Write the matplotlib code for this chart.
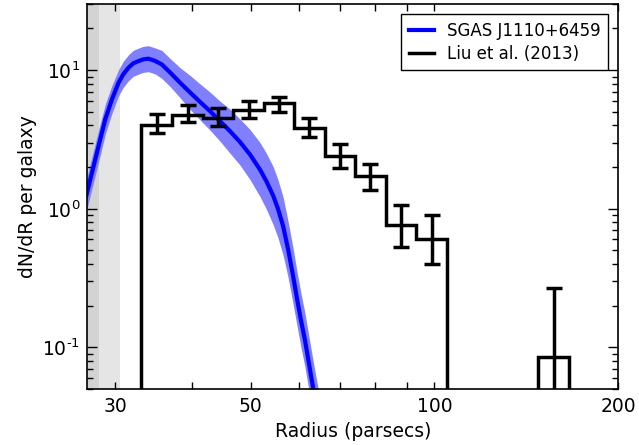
import math
import matplotlib
matplotlib.use('Agg')
import matplotlib.pyplot as plt
import matplotlib.ticker as mticker
from matplotlib.lines import Line2D

# ---- model curve (SGAS J1110+6459) ----
model_r = [26.90, 27.13, 27.48, 28.17, 28.89, 29.63, 30.38, 30.92, 31.54, 32.10,
           32.75, 33.33, 34.00, 34.87, 35.76, 36.89, 38.31, 39.78, 41.31, 42.89,
           44.53, 46.24, 48.01, 49.86, 51.77, 53.07, 54.41, 55.40, 56.51, 57.58,
           58.61, 59.58, 60.41, 61.33, 62.25, 63.26, 64.88]
model_mid = [1.243, 1.449, 1.820, 2.831, 4.415, 6.155, 8.124, 9.326, 10.42, 11.20,
             11.63, 11.97, 12.11, 11.67, 11.01, 9.641, 8.124, 6.916, 5.903, 5.067,
             4.291, 3.634, 3.036, 2.466, 1.922, 1.575, 1.247, 1.005, 0.7486, 0.5084,
             0.3354, 0.2214, 0.1587, 0.1138, 0.07768, 0.05125, 0.02771]
model_lo = [0.9525, 1.110, 1.395, 2.169, 3.440, 4.876, 6.544, 7.512, 8.394, 9.022,
            9.368, 9.642, 9.755, 9.401, 8.722, 7.638, 6.330, 5.212, 4.375, 3.694,
            3.077, 2.520, 2.071, 1.627, 1.227, 0.9888, 0.7699, 0.6205, 0.4622, 0.3192,
            0.2106, 0.1413, 0.1013, 0.07264, 0.04958, 0.03271, 0.01769]
model_hi = [1.622, 1.891, 2.375, 3.694, 5.666, 7.769, 10.085, 11.577, 12.935, 13.904,
            14.437, 14.860, 15.033, 14.487, 13.898, 12.170, 10.426, 9.177, 7.964, 6.950,
            5.985, 5.240, 4.451, 3.737, 3.011, 2.509, 2.020, 1.628, 1.2124, 0.8098,
            0.5343, 0.3468, 0.2486, 0.1783, 0.1217, 0.08029, 0.04341]

# ---- Liu et al. (2013) histogram ----
bin_edges = [33.1, 37.2, 41.7, 46.8, 52.5, 58.9, 66.1, 74.1, 83.2, 93.3, 104.7,
             117.5, 131.8, 147.9, 166.0]
bin_vals = [4.0, 4.74, 4.54, 5.13, 5.82, 3.82, 2.40, 1.72, 0.76, 0.60, 0, 0, 0, 0.085]
err_r = [35.1, 39.4, 44.2, 49.6, 55.6, 62.4, 70.0, 78.5, 88.1, 98.9, 156.7]
err_val = [4.0, 4.74, 4.54, 5.13, 5.82, 3.82, 2.40, 1.72, 0.76, 0.60, 0.085]
err_top = [4.8, 5.63, 5.3, 5.98, 6.44, 4.54, 2.95, 2.12, 1.07, 0.905, 0.269]
err_bot = [3.54, 4.22, 3.95, 4.54, 4.98, 3.29, 1.98, 1.36, 0.532, 0.398, 0.001]

xtick_vals = [30, 40, 50, 60, 70, 80, 90, 100, 200]
xtick_labels = ['30', '', '50', '', '', '', '', '100', '200']


def decadeLabel(val, pos):
    '''10^n labels with a plain hyphen, like the old matplotlib output'''
    n = int(round(math.log10(val)))
    if n < 0:
        return r'$\mathdefault{10^{\text{-}%d}}$' % (-n)
    return r'$\mathdefault{10^{%d}}$' % n


fig = plt.figure(figsize=(6.39, 4.45), dpi=100)
ax = fig.add_axes([0.1366, 0.1258, 0.831, 0.865])

#-- shaded resolution limits
ax.axvspan(20, 30.6, color='#e5e5e5', lw=0, zorder=0)
ax.axvspan(20, 28.2, color='#d3d3d3', lw=0, zorder=0)

#-- model with its spread
ax.fill_between(model_r, model_lo, model_hi, color='#8080ff', lw=0, zorder=1)
ax.plot(model_r, model_mid, color='b', lw=3, zorder=2)

#-- histogram + errorbars
ax.stairs(bin_vals, bin_edges, baseline=0, fill=False, color='k', lw=2.5, zorder=3)
yerr = [[v - b for v, b in zip(err_val, err_bot)], [t - v for v, t in zip(err_val, err_top)]]
ax.errorbar(err_r, err_val, yerr=yerr, fmt='none', ecolor='k', elinewidth=2.5,
            capsize=6, capthick=2.5, zorder=3)

ax.set_xscale('log')
ax.set_yscale('log')
ax.set_xlim(27, 200)
ax.set_ylim(0.05, 30)

ax.xaxis.set_major_locator(mticker.FixedLocator(xtick_vals))
ax.xaxis.set_major_formatter(mticker.FixedFormatter(xtick_labels))
ax.xaxis.set_minor_locator(mticker.NullLocator())
ax.yaxis.set_major_locator(mticker.FixedLocator([0.1, 1, 10]))
ax.yaxis.set_major_formatter(mticker.FuncFormatter(decadeLabel))

ax.tick_params(which='both', direction='in', top=True, right=True, labelsize=13.5,
               width=1, color='k')
ax.tick_params(axis='x', which='major', length=5, pad=6)
ax.tick_params(axis='y', which='major', length=7, pad=5)
ax.tick_params(axis='y', which='minor', length=4)
for s in ax.spines.values():
    s.set_linewidth(1.2)

ax.set_xlabel('Radius (parsecs)', fontsize=13.5)
ax.set_ylabel('dN/dR per galaxy', fontsize=13.5)

handles = [Line2D([], [], color='b', lw=3), Line2D([], [], color='k', lw=2.5)]
leg = ax.legend(handles, ['SGAS J1110+6459', 'Liu et al. (2013)'], loc='upper right',
                fontsize=12, handlelength=1.5, fancybox=False, framealpha=1,
                borderaxespad=0.6, labelspacing=0.3, borderpad=0.45)
leg.get_frame().set_edgecolor('k')

fig.savefig('out.png', dpi=100)
